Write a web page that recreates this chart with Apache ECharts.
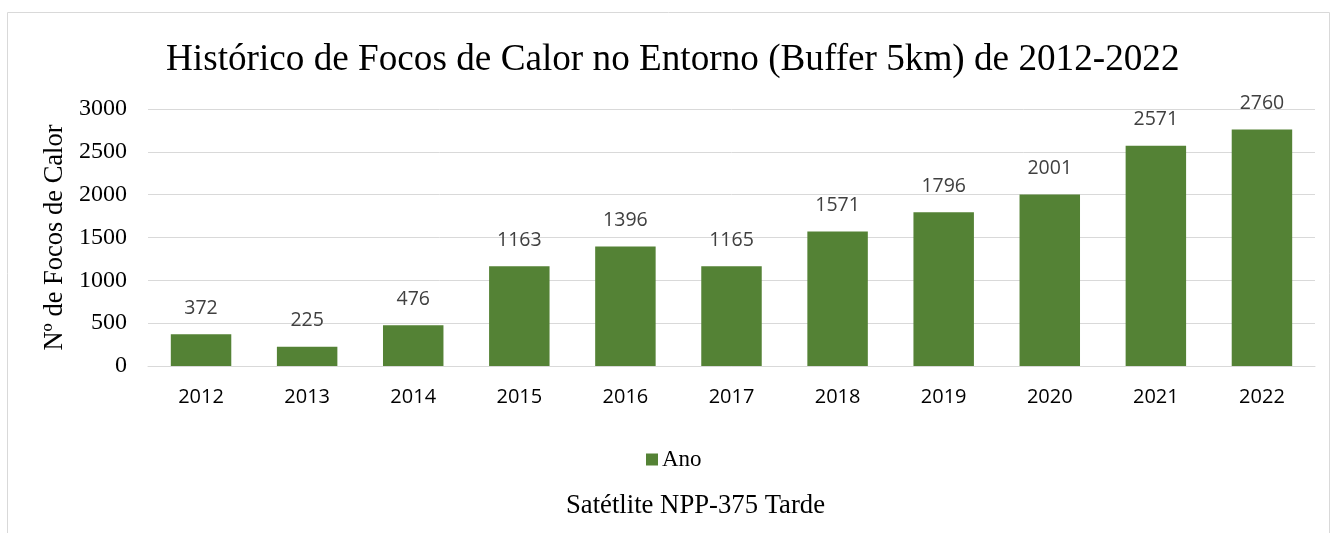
<!DOCTYPE html>
<html>
<head>
<meta charset="utf-8">
<script src="https://cdn.jsdelivr.net/npm/echarts@6/dist/echarts.min.js"></script>
<style>
  html, body { margin: 0; padding: 0; background: #fff; }
  #chart { width: 1334px; height: 533px; }
</style>
</head>
<body>
<div id="chart"></div>
<script>
// dados do gráfico
const anos = ['2012', '2013', '2014', '2015', '2016', '2017', '2018', '2019', '2020', '2021', '2022'];
const focos = [372, 225, 476, 1163, 1396, 1165, 1571, 1796, 2001, 2571, 2760];
const serieNome = 'Ano';

const chart = echarts.init(document.getElementById('chart'));

chart.setOption({
  animation: false,
  title: [
    {
      text: 'Histórico de Focos de Calor no Entorno (Buffer 5km) de 2012-2022',
      left: 161,
      top: 37,
      textStyle: { fontFamily: 'Liberation Serif', fontSize: 37.2, fontWeight: 'normal', color: '#000' }
    },
    {
      text: 'Satétlite NPP-375 Tarde',
      left: 561,
      top: 487,
      textStyle: { fontFamily: 'Liberation Serif', fontSize: 26.7, fontWeight: 'normal', color: '#000' }
    }
  ],
  graphic: [{
    type: 'rect',
    shape: { x: 7.5, y: 12.5, width: 1322, height: 540 },
    style: { fill: 'none', stroke: '#d9d9d9', lineWidth: 1 },
    silent: true
  }],
  legend: {
    data: [serieNome],
    top: 443,
    left: 641,
    icon: 'rect',
    itemWidth: 12,
    itemHeight: 12,
    itemGap: 4,
    textStyle: { fontFamily: 'Liberation Serif', fontSize: 23, color: '#000', padding: [0, 0, 0, -1] }
  },
  grid: {
    left: 148,
    right: 19,
    top: 109,
    bottom: 167,
    containLabel: false
  },
  xAxis: {
    type: 'category',
    data: anos,
    axisLine: { lineStyle: { color: '#d9d9d9' } },
    axisTick: { show: false },
    axisLabel: { fontFamily: 'Open Sans', fontSize: 20, color: '#000', margin: 21 }
  },
  yAxis: {
    type: 'value',
    min: 0,
    max: 3000,
    interval: 500,
    name: 'Nº de Focos de Calor',
    nameLocation: 'middle',
    nameGap: 78,
    nameTextStyle: { fontFamily: 'Liberation Serif', fontSize: 26.5, color: '#000' },
    axisLine: { show: false },
    axisTick: { show: false },
    axisLabel: {
      fontFamily: 'Liberation Serif',
      fontSize: 24,
      color: '#000',
      margin: 21,
      formatter: function (v) { return String(v); }
    },
    splitLine: { lineStyle: { color: '#d9d9d9', width: 1 } }
  },
  series: [{
    name: serieNome,
    type: 'bar',
    data: focos,
    barWidth: '57%',
    itemStyle: { color: '#548235' },
    label: {
      show: true,
      position: 'top',
      distance: 16,
      fontFamily: 'Open Sans',
      fontSize: 19.5,
      color: '#404040'
    }
  }]
});
</script>
</body>
</html>
